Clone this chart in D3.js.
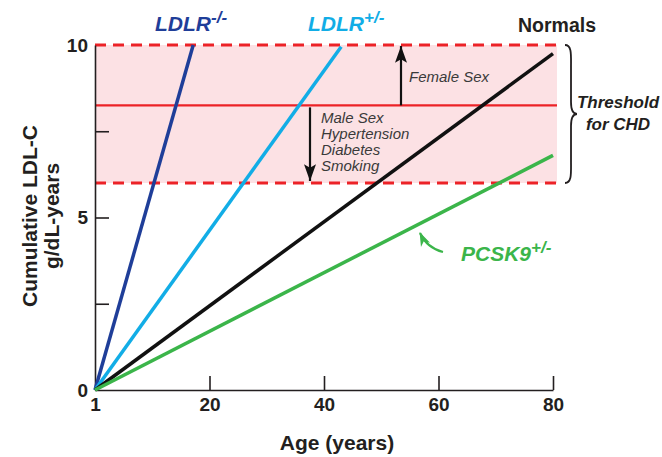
<!DOCTYPE html>
<html lang="en">
  <head>
    <meta charset="UTF-8">
    <title>Cumulative LDL-C</title>
    <style>
      body { margin: 0; background: #fff; }
      svg { font-family: "Liberation Sans", Arial, sans-serif; }
      .axis path, .axis line { stroke: #231f20; stroke-width: 1.6; }
      .axis text { font-size: 19px; font-weight: bold; fill: #231f20; }
      .title { font-size: 21px; font-weight: bold; fill: #231f20; }
      .note { font-size: 15px; font-style: italic; fill: #3a3a3a; }
    </style>
  </head>
  <body>
    <svg id="chart" width="662" height="457"></svg>

    <script src="https://cdn.jsdelivr.net/npm/d3@7"></script>
    <script>
      // ages where each line starts / ends, and cumulative LDL-C (g/dL-years)
      var seriesNames = ["LDLR-/-", "LDLR+/-", "Normals", "PCSK9+/-"];
      var startAge = [1, 1, 1, 1];
      var endAge = [17.3, 43, 80, 80];
      var startValue = [0, 0, 0, 0];
      var endValue = [10, 9.95, 9.75, 6.8];
      var seriesColors = ["#1f3e99", "#12ade6", "#111111", "#3bb54a"];

      var xTicks = [1, 20, 40, 60, 80];
      var yTicks = [0, 2.5, 5, 7.5, 10];
      var yLabels = [0, 5, 10];

      // threshold band for CHD
      var thresholdLow = 6, thresholdMid = 8.25, thresholdHigh = 10;
      var riskUp = ["Female Sex"];
      var riskDown = ["Male Sex", "Hypertension", "Diabetes", "Smoking"];

      var svg = d3.select("#chart");

      // the "1" sits at the origin, the other ticks are evenly spaced
      var x = d3.scaleLinear().domain(xTicks).range([95, 209.5, 324, 438.5, 553]);
      var y = d3.scaleLinear().domain([0, 10]).range([390, 45]);

      var defs = svg.append("defs");
      defs.append("marker")
          .attr("id", "arrow")
          .attr("viewBox", "0 0 14 10")
          .attr("refX", 14).attr("refY", 5)
          .attr("markerWidth", 17).attr("markerHeight", 12)
          .attr("markerUnits", "userSpaceOnUse")
          .attr("orient", "auto")
        .append("path")
          .attr("d", "M0,0 L14,5 L0,10 L3,5 Z")
          .attr("fill", "#111");
      defs.append("marker")
          .attr("id", "arrowGreen")
          .attr("viewBox", "0 0 14 10")
          .attr("refX", 13).attr("refY", 5)
          .attr("markerWidth", 14).attr("markerHeight", 12)
          .attr("markerUnits", "userSpaceOnUse")
          .attr("orient", "auto")
        .append("path")
          .attr("d", "M0,0 L14,5 L0,10 L4,5 Z")
          .attr("fill", seriesColors[3]);

      // pink band
      svg.append("rect")
          .attr("x", x(1))
          .attr("y", y(thresholdHigh))
          .attr("width", x(80) - x(1) + 4)
          .attr("height", y(thresholdLow) - y(thresholdHigh))
          .attr("fill", "#fce1e4");

      [thresholdHigh, thresholdLow].forEach(function(v) {
        svg.append("line")
            .attr("x1", x(1)).attr("x2", x(80) + 4)
            .attr("y1", y(v)).attr("y2", y(v))
            .attr("stroke", "#ec2227")
            .attr("stroke-width", 2.8)
            .attr("stroke-dasharray", "11,7");
      });
      svg.append("line")
          .attr("x1", x(1)).attr("x2", x(80) + 4)
          .attr("y1", y(thresholdMid)).attr("y2", y(thresholdMid))
          .attr("stroke", "#ec2227")
          .attr("stroke-width", 2.2);

      // axes
      var xAxis = d3.axisBottom(x).tickValues(xTicks).tickSize(-14).tickPadding(8)
          .tickSizeOuter(0);
      var gx = svg.append("g").attr("class", "axis")
          .attr("transform", "translate(0," + y(0) + ")")
          .call(xAxis);
      gx.selectAll(".tick").filter(function(d) { return d === 1; }).select("line").remove();

      var yAxis = d3.axisLeft(y).tickValues(yTicks).tickSize(-14).tickPadding(7)
          .tickSizeOuter(0)
          .tickFormat(function(d) { return yLabels.indexOf(d) >= 0 ? d : ""; });
      var gy = svg.append("g").attr("class", "axis")
          .attr("transform", "translate(" + x(1) + ",0)")
          .call(yAxis);
      gy.selectAll(".tick").filter(function(d) { return d === 0 || d === 10; }).select("line").remove();

      // series lines
      var line = d3.line().x(function(d) { return x(d[0]); }).y(function(d) { return y(d[1]); });
      seriesNames.forEach(function(name, i) {
        svg.append("path")
            .datum([[startAge[i], startValue[i]], [endAge[i], endValue[i]]])
            .attr("d", line)
            .attr("fill", "none")
            .attr("stroke", seriesColors[i])
            .attr("stroke-width", 3.5);
      });

      // series labels with superscripts
      function seriesLabel(base, sup, color, px, py) {
        var t = svg.append("text")
            .attr("x", px).attr("y", py)
            .attr("fill", color)
            .attr("font-size", 21)
            .attr("font-weight", "bold")
            .attr("font-style", "italic");
        t.append("tspan").text(base);
        t.append("tspan").attr("dy", -8).attr("font-size", 17).text(sup);
      }
      seriesLabel("LDLR", "-/-", seriesColors[0], 155, 31);
      seriesLabel("LDLR", "+/-", seriesColors[1], 308, 31);
      seriesLabel("PCSK9", "+/-", seriesColors[3], 461, 261);
      svg.append("text")
          .attr("x", 518).attr("y", 32)
          .attr("font-size", 19.5).attr("font-weight", "bold")
          .attr("fill", "#231f20")
          .text("Normals");

      // green curved arrow pointing to PCSK9 line
      svg.append("path")
          .attr("d", "M443,252 Q427,248 420,233")
          .attr("fill", "none")
          .attr("stroke", seriesColors[3])
          .attr("stroke-width", 2.2)
          .attr("marker-end", "url(#arrowGreen)");

      // risk arrows
      svg.append("line")
          .attr("x1", 401).attr("x2", 401)
          .attr("y1", y(thresholdMid)).attr("y2", y(thresholdHigh) + 1)
          .attr("stroke", "#111").attr("stroke-width", 2.2)
          .attr("marker-end", "url(#arrow)");
      svg.append("line")
          .attr("x1", 310).attr("x2", 310)
          .attr("y1", y(thresholdMid) + 2).attr("y2", y(thresholdLow) - 2)
          .attr("stroke", "#111").attr("stroke-width", 2.2)
          .attr("marker-end", "url(#arrow)");

      svg.append("text").attr("class", "note")
          .attr("x", 409).attr("y", 82)
          .text(riskUp[0]);
      svg.selectAll(".down").data(riskDown).enter()
        .append("text")
          .attr("class", "note down")
          .attr("x", 321)
          .attr("y", function(d, i) { return 123 + i * 16; })
          .text(function(d) { return d; });

      // brace for threshold
      var bx = 565, bTop = y(thresholdHigh), bBot = y(thresholdLow), bMid = (bTop + bBot) / 2;
      svg.append("path")
          .attr("d", "M" + bx + "," + bTop +
                " C" + (bx + 7) + "," + bTop + " " + (bx + 6) + "," + (bTop + 10) + " " + (bx + 6) + "," + (bTop + 22) +
                " L" + (bx + 6) + "," + (bMid - 12) +
                " C" + (bx + 6) + "," + (bMid - 3) + " " + (bx + 9) + "," + bMid + " " + (bx + 12) + "," + bMid +
                " C" + (bx + 9) + "," + bMid + " " + (bx + 6) + "," + (bMid + 3) + " " + (bx + 6) + "," + (bMid + 12) +
                " L" + (bx + 6) + "," + (bBot - 22) +
                " C" + (bx + 6) + "," + (bBot - 10) + " " + (bx + 7) + "," + bBot + " " + bx + "," + bBot)
          .attr("fill", "none")
          .attr("stroke", "#231f20")
          .attr("stroke-width", 1.8);
      svg.append("text")
          .attr("text-anchor", "middle")
          .attr("font-size", 17).attr("font-weight", "bold").attr("font-style", "italic")
          .attr("fill", "#231f20")
          .selectAll("tspan").data(["Threshold", "for CHD"]).enter()
          .append("tspan")
            .attr("x", 618)
            .attr("y", function(d, i) { return 108 + i * 22; })
            .text(function(d) { return d; });

      // axis titles
      svg.append("text").attr("class", "title")
          .attr("x", 337).attr("y", 450)
          .attr("text-anchor", "middle")
          .text("Age (years)");
      svg.append("text").attr("class", "title")
          .attr("transform", "translate(37,216) rotate(-90)")
          .attr("text-anchor", "middle")
          .text("Cumulative LDL-C");
      svg.append("text").attr("class", "title")
          .attr("transform", "translate(59,216) rotate(-90)")
          .attr("text-anchor", "middle")
          .text("g/dL-years");
    </script>
  </body>
</html>
